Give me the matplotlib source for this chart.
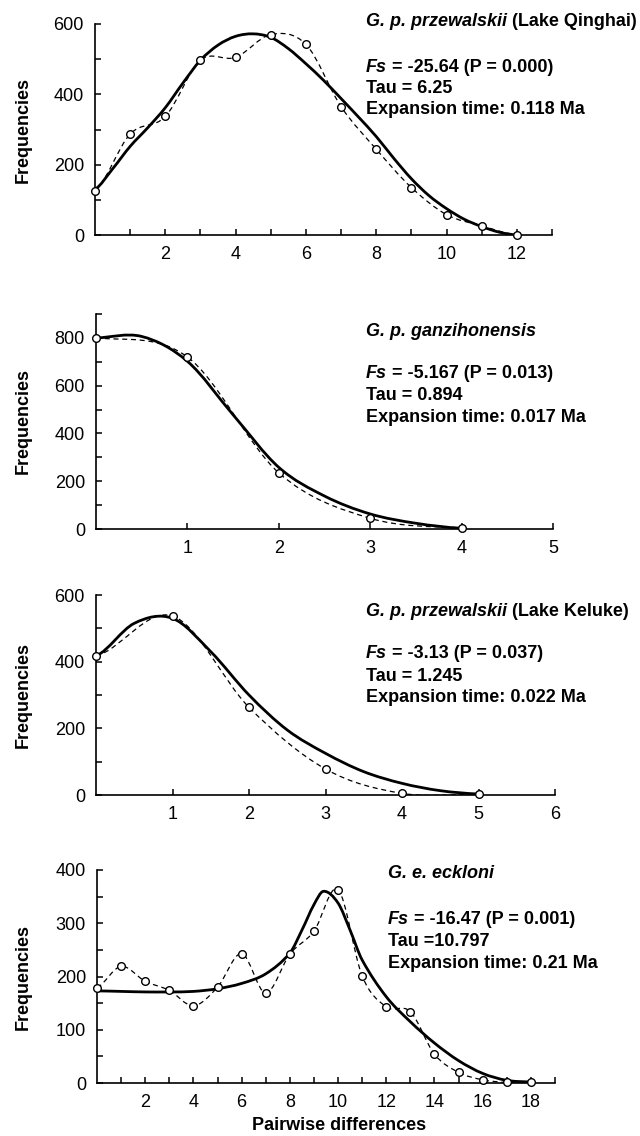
import numpy as np
import matplotlib
matplotlib.use("Agg")
import matplotlib.pyplot as plt
from matplotlib.path import Path
from matplotlib.patches import PathPatch
from matplotlib.ticker import FixedLocator, MultipleLocator

plt.rcParams["font.family"] = ["Liberation Sans", "DejaVu Sans"]

# --- data ---
# G. p. przewalskii (Lake Qinghai)
qinghai_x = list(range(13))
qinghai_obs = [125, 287, 337, 497, 505, 570, 542, 365, 244, 135, 58, 26, 0]
qinghai_exp_x = [0, 0.5, 1, 1.5, 2, 2.5, 3, 3.5, 4, 4.5, 5, 5.5, 6, 6.5, 7,
                 7.5, 8, 8.5, 9, 9.5, 10, 10.5, 11, 11.5, 12]
qinghai_exp = [130, 188, 252, 305, 362, 432, 497, 540, 565, 572, 562, 530,
               487, 440, 388, 335, 280, 218, 160, 112, 75, 45, 24, 8, 0]

# G. p. ganzihonensis
ganzi_x = [0, 1, 2, 3, 4]
ganzi_obs = [800, 720, 235, 45, 5]
ganzi_exp_x = [0, 0.5, 1, 1.5, 2, 2.5, 3, 3.5, 4]
ganzi_exp = [800, 806, 702, 478, 258, 138, 63, 24, 3]

# G. p. przewalskii (Lake Keluke)
keluke_x = [0, 1, 2, 3, 4, 5]
keluke_obs = [417, 537, 263, 78, 5, 2]
keluke_exp_x = [0, 0.5, 1, 1.5, 2, 2.5, 3, 3.5, 4, 4.5, 5]
keluke_exp = [417, 515, 530, 430, 300, 195, 125, 70, 35, 13, 3]

# G. e. eckloni
eck_x = list(range(19))
eck_obs = [179, 219, 191, 174, 145, 180, 243, 169, 242, 285, 363, 201, 143,
           134, 54, 20, 6, 1, 1]
eck_exp_x = [0, 1, 2, 3, 4, 5, 6, 7, 8, 8.5, 9, 9.4, 10, 10.5, 11, 12, 13,
             14, 15, 16, 17, 18]
eck_exp = [173, 172, 171, 171, 172, 177, 187, 205, 244, 287, 335, 360, 338,
           287, 231, 162, 115, 75, 42, 18, 5, 2]

titles_italic = ["G. p. przewalskii", "G. p. ganzihonensis",
                 "G. p. przewalskii", "G. e. eckloni"]
titles_rest = [" (Lake Qinghai)", "", " (Lake Keluke)", ""]
fs_text = [" = -25.64 (P = 0.000)", " = -5.167 (P = 0.013)",
           " = -3.13 (P = 0.037)", " = -16.47 (P = 0.001)"]
tau_text = ["Tau = 6.25", "Tau = 0.894", "Tau = 1.245", "Tau =10.797"]
exp_text = ["Expansion time: 0.118 Ma", "Expansion time: 0.017 Ma",
            "Expansion time: 0.022 Ma", "Expansion time: 0.21 Ma"]


def smooth_path(x, y):
    # smoothed line (cubic Bezier through the points, like a spreadsheet "smoothed line")
    x = np.asarray(x, float)
    y = np.asarray(y, float)
    n = len(x)
    slope = np.empty(n)
    slope[1:-1] = (y[2:] - y[:-2]) / (x[2:] - x[:-2])
    slope[0] = 0.5 * (y[1] - y[0]) / (x[1] - x[0])
    slope[-1] = 0.5 * (y[-1] - y[-2]) / (x[-1] - x[-2])
    verts = [(x[0], y[0])]
    codes = [Path.MOVETO]
    for i in range(n - 1):
        h = (x[i + 1] - x[i]) / 3
        verts += [(x[i] + h, y[i] + slope[i] * h),
                  (x[i + 1] - h, y[i + 1] - slope[i + 1] * h),
                  (x[i + 1], y[i + 1])]
        codes += [Path.CURVE4] * 3
    return Path(verts, codes)


W, H = 640, 1136
fig = plt.figure(figsize=(W / 100, H / 100), dpi=100)
FS = 13

panels = [
    dict(box=(95, 552, 24, 235), xlim=13, ylim=600, ystep=(200, 100),
         xmajor=range(2, 13, 2), x=qinghai_x, obs=qinghai_obs,
         ex=qinghai_exp_x, ey=qinghai_exp, tx=366, ty=(21, 67, 88.5, 110)),
    dict(box=(96, 553, 314, 529), xlim=5, ylim=900, ystep=(200, 100),
         xmajor=range(1, 6), x=ganzi_x, obs=ganzi_obs,
         ex=ganzi_exp_x, ey=ganzi_exp, tx=366, ty=(332, 374, 396, 417)),
    dict(box=(96, 555, 595, 795), xlim=6, ylim=600, ystep=(200, 100),
         xmajor=range(1, 7), x=keluke_x, obs=keluke_obs,
         ex=keluke_exp_x, ey=keluke_exp, tx=366, ty=(612, 654, 676.5, 698)),
    dict(box=(97, 555, 870, 1083), xlim=19, ylim=400, ystep=(100, 50),
         xmajor=range(2, 19, 2), x=eck_x, obs=eck_obs,
         ex=eck_exp_x, ey=eck_exp, tx=388, ty=(873, 920, 942, 964)),
]

for k, p in enumerate(panels):
    left, right, top, bottom = p["box"]
    ax = fig.add_axes([left / W, 1 - bottom / H, (right - left) / W,
                       (bottom - top) / H])
    ax.set_xlim(0, p["xlim"])
    ax.set_ylim(0, p["ylim"])
    for s in ("top", "right"):
        ax.spines[s].set_visible(False)
    for s in ("left", "bottom"):
        ax.spines[s].set_linewidth(1.2)
    ax.xaxis.set_major_locator(FixedLocator(list(p["xmajor"])))
    ax.xaxis.set_minor_locator(FixedLocator(list(range(1, p["xlim"] + 1))))
    ax.yaxis.set_major_locator(MultipleLocator(p["ystep"][0]))
    ax.yaxis.set_minor_locator(MultipleLocator(p["ystep"][1]))
    ax.tick_params(which="both", direction="in", length=4.5, width=1.1,
                   labelsize=13, pad=8)

    ax.add_patch(PathPatch(smooth_path(p["ex"], p["ey"]), fill=False,
                           edgecolor="black", linewidth=2.0, zorder=3))
    ax.add_patch(PathPatch(smooth_path(p["x"], p["obs"]), fill=False,
                           edgecolor="black", linewidth=0.9,
                           linestyle=(0, (4, 3)), zorder=3))
    ax.plot(p["x"], p["obs"], "o", mfc="white", mec="black", ms=5.5,
            mew=1.0, clip_on=False, zorder=5)

    fig.text(23 / W, 1 - (top + bottom) / 2 / H, "Frequencies",
             rotation=90, ha="center", va="center", fontsize=13,
             fontweight="bold")

    tx = p["tx"] / W
    ty = [1 - v / H for v in p["ty"]]
    t = fig.text(tx, ty[0], titles_italic[k], fontsize=FS, fontweight="bold",
                 fontstyle="italic", va="center")
    if titles_rest[k]:
        ax.annotate(titles_rest[k], xy=(1, 0), xycoords=t, va="bottom",
                    ha="left", fontsize=FS, fontweight="bold",
                    annotation_clip=False)
    t = fig.text(tx, ty[1], "Fs", fontsize=FS, fontweight="bold",
                 fontstyle="italic", va="center")
    ax.annotate(fs_text[k], xy=(1, 0), xycoords=t, va="bottom", ha="left",
                fontsize=FS, fontweight="bold", annotation_clip=False)
    fig.text(tx, ty[2], tau_text[k], fontsize=FS, fontweight="bold",
             va="center")
    fig.text(tx, ty[3], exp_text[k], fontsize=FS, fontweight="bold",
             va="center")

fig.text(339 / W, 1 - 1126 / H, "Pairwise differences", ha="center",
         va="center", fontsize=13, fontweight="bold")

fig.savefig("out.png", dpi=100)
